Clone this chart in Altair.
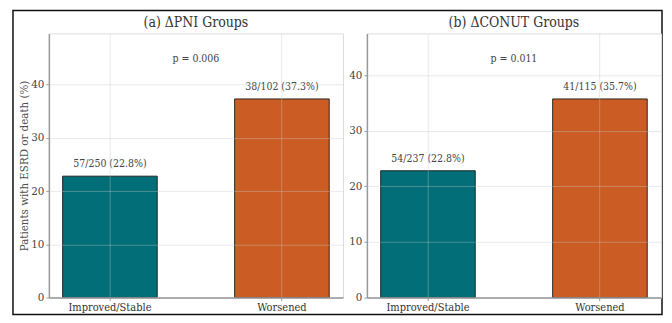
import altair as alt
import pandas as pd

groups = ["Improved/Stable", "Worsened"]
pni_pct = [22.8, 37.3]
pni_lbl = ["57/250 (22.8%)", "38/102 (37.3%)"]
conut_pct = [22.8, 35.7]
conut_lbl = ["54/237 (22.8%)", "41/115 (35.7%)"]
panel_titles = ["(a) \u0394PNI Groups", "(b) \u0394CONUT Groups"]
p_texts = ["p = 0.006", "p = 0.011"]
y_ticks = [0, 10, 20, 30, 40]
colors = ["#026E78", "#CB5D24"]

W, H = 295, 265
FONT = "DejaVu Serif Condensed, DejaVu Serif"


def panel(pcts, lbls, title, ptext, show_ytitle, frame=False):
    df = pd.DataFrame({"group": groups, "pct": pcts, "label": lbls})
    ymax = max(pcts) * 1.33
    yscale = alt.Scale(domain=[0, ymax], nice=False, zero=True)
    xscale = alt.Scale(domain=groups, paddingInner=0.45, paddingOuter=0.08)
    base = alt.Chart(df)
    bars = base.mark_bar(stroke="#1a1a1a", strokeWidth=0.9).encode(
        x=alt.X("group:N", scale=xscale, sort=groups,
                axis=alt.Axis(title="", labelAngle=0, labelFont=FONT, labelFontSize=11,
                              labelColor="#333", domainColor="#9a9a9a", domainWidth=1.5,
                              tickColor="#9a9a9a", tickSize=3, labelPadding=1,
                              grid=True, gridColor="#c8c8c8", gridOpacity=0.38, zindex=1)),
        y=alt.Y("pct:Q", scale=yscale,
                axis=alt.Axis(values=y_ticks, title=("Patients with ESRD or death (%)" if show_ytitle else ""),
                              titleFont=FONT, titleFontSize=11.5, titleFontWeight=500,
                              titleColor="#505050", titlePadding=1,
                              labelFont=FONT, labelFontSize=11.5, labelColor="#444",
                              domainColor="#9a9a9a", domainWidth=1.5,
                              tickColor="#9a9a9a", tickSize=3, labelPadding=2,
                              grid=True, gridColor="#c8c8c8", gridOpacity=0.38, zindex=1)),
        color=alt.Color("group:N", scale=alt.Scale(domain=groups, range=colors), legend=None),
    )
    texts = base.mark_text(font=FONT, fontSize=10.5, color="#444", baseline="middle", dy=-12).encode(
        x=alt.X("group:N", scale=xscale, sort=groups),
        y=alt.Y("pct:Q", scale=yscale),
        text="label:N",
    )
    pdf = pd.DataFrame({"t": [ptext], "py": [max(pcts) * 1.2]})
    ptxt = alt.Chart(pdf).mark_text(font=FONT, fontSize=10.5, color="#444", baseline="middle").encode(
        x=alt.value(W / 2),
        y=alt.Y("py:Q", scale=yscale),
        text="t:N",
    )
    tdf = pd.DataFrame({"t": [title]})
    ttl = alt.Chart(tdf).mark_text(font=FONT, fontSize=14, color="#333", baseline="middle").encode(
        x=alt.value(W / 2), y=alt.value(-10), text="t:N"
    )
    layers = [bars, texts, ptxt, ttl]
    if frame:
        fdf = pd.DataFrame({"k": [0]})
        fr = alt.Chart(fdf).mark_rect(fillOpacity=0, stroke="#111", strokeWidth=1.5).encode(
            x=alt.value(-36), x2=alt.value(615), y=alt.value(-23), y2=alt.value(282)
        )
        layers.append(fr)
    return alt.layer(*layers).properties(width=W, height=H)


a = panel(pni_pct, pni_lbl, panel_titles[0], p_texts[0], True, frame=True)
b = panel(conut_pct, conut_lbl, panel_titles[1], p_texts[1], False)

chart = alt.hconcat(a, b, spacing=24, bounds="flush").resolve_scale(y="independent", x="independent").properties(
    padding={"left": 3, "top": 0, "right": 0, "bottom": 0}
).configure_view(stroke=None).configure(background="white")

chart.save("out.html", embed_options={"renderer": "svg", "actions": False})
